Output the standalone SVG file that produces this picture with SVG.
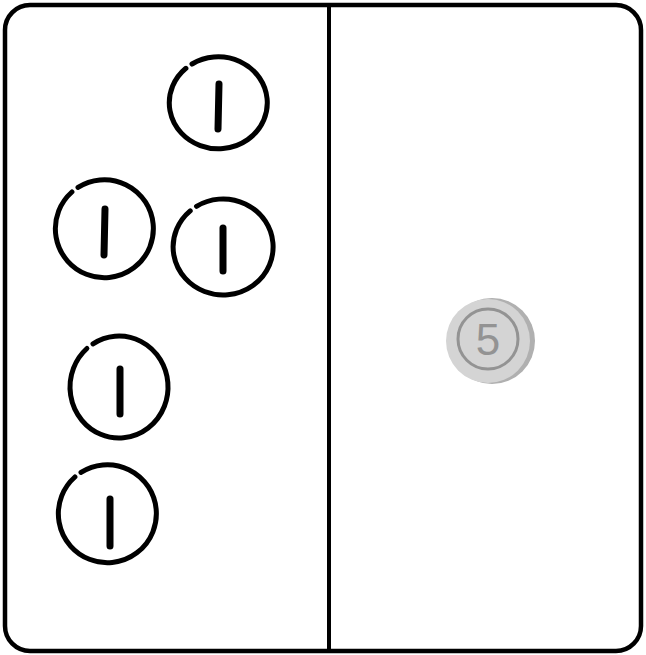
<svg xmlns="http://www.w3.org/2000/svg" width="646" height="655" viewBox="0 0 646 655">
<style>
.ring{fill:none;stroke:#000;stroke-width:5;stroke-linecap:round}
.one{stroke:#000;stroke-width:7;stroke-linecap:round}
.frame{fill:#fff;stroke:#000;stroke-width:4.5}
</style>
<rect width="646" height="655" fill="#fff"/>
<g id="frame">
<rect class="frame" x="5" y="5" width="636" height="646" rx="25" ry="25"/>
</g>
<g id="connectors">
<line x1="329" y1="5" x2="329" y2="651" stroke="#000" stroke-width="4"/>
</g>
<g id="coin1a">
<path class="ring" d="M192,64 A49,46 0 1 1 185.9,68.3"/>
<line class="one" x1="219" y1="84" x2="218" y2="129"/>
</g>
<g id="coin1b">
<path class="ring" d="M78,187.4 A49,49 0 1 1 71.9,192"/>
<line class="one" x1="105" y1="209" x2="104" y2="255"/>
</g>
<g id="coin1c">
<path class="ring" d="M196.5,206.3 A50,48 0 1 1 190.2,210.8"/>
<line class="one" x1="223" y1="228" x2="223" y2="271"/>
</g>
<g id="coin1d">
<path class="ring" d="M93,343.8 A49,51 0 1 1 86.9,348.5"/>
<line class="one" x1="120" y1="369" x2="120" y2="414"/>
</g>
<g id="coin1e">
<path class="ring" d="M81,472.4 A49,49 0 1 1 74.9,477"/>
<line class="one" x1="110" y1="499" x2="110" y2="546"/>
</g>
<g id="coin5">
<circle cx="492" cy="341" r="43" fill="#b0b0b0"/>
<circle cx="488" cy="341" r="42" fill="#d4d4d4"/>
<circle cx="488" cy="339" r="30" fill="none" stroke="#939393" stroke-width="3"/>
<text x="488" y="355" font-family="Liberation Sans, Arial, sans-serif" font-size="44" fill="#939393" text-anchor="middle">5</text>
</g>
</svg>
